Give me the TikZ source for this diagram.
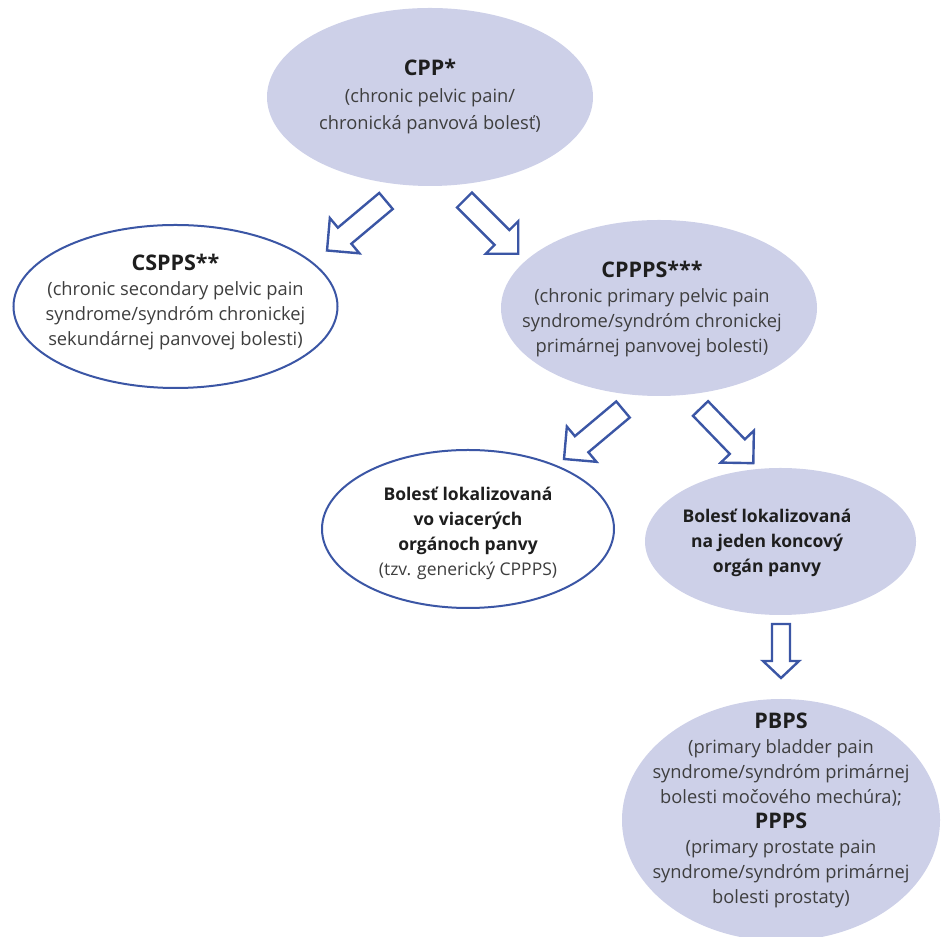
\documentclass[tikz,border=0pt]{standalone}
\usepackage{fontspec}
\setmainfont{Open Sans}
\usetikzlibrary{shapes.geometric}
\definecolor{lav}{HTML}{CDD0E8}
\definecolor{bblue}{HTML}{3B56A5}
\definecolor{txtgray}{HTML}{3E3E3E}
\definecolor{txtdark}{HTML}{1E1E1E}
\newcommand{\bArrow}[6]{%
  \begin{scope}[shift={#1}, rotate=#2]
    \draw[arrowline] (0,-#4) -- ({#3-#6},-#4) -- ({#3-#6},-#5) -- (#3,0) -- ({#3-#6},#5) -- ({#3-#6},#4) -- (0,#4) -- cycle;
  \end{scope}}
\newcommand{\hd}[1]{{\fontsize{21.5}{27}\selectfont\bfseries\color{txtdark}#1}}
\begin{document}
\begin{tikzpicture}[x=1pt,y=1pt,
  filled/.style={ellipse, fill=lav, draw=none, inner sep=0pt},
  outlined/.style={ellipse, fill=white, draw=bblue, line width=2pt, inner sep=0pt},
  arrowline/.style={draw=bblue, line width=2.4pt, fill=white, line join=miter},
  reg/.style={align=center, text=txtgray, font=\fontsize{18.3}{25}\selectfont},
  bsmall/.style={align=center, text=txtdark, font=\fontsize{17.5}{25}\selectfont\bfseries}]
\useasboundingbox (0,0) rectangle (944,936);
% ellipses
\node[filled, minimum width=326pt, minimum height=178pt] (cpp) at (430,839) {};
\node[outlined, minimum width=324pt, minimum height=163pt] (csp) at (175.5,629.5) {};
\node[filled, minimum width=316pt, minimum height=176pt] (cpps) at (659,628) {};
\node[outlined, minimum width=292pt, minimum height=158pt] (gen) at (468,407) {};
\node[filled, minimum width=271pt, minimum height=147pt] (one) at (780.5,394.5) {};
\node[filled, minimum width=318pt, minimum height=242pt] (pb) at (781,116) {};
% texts
\node[reg, font=\fontsize{18.3}{27}\selectfont] (cpp-t) at (cpp.center) {\hd{CPP*}\\(chronic pelvic pain/\\chronická panvová bolesť)};
\node[reg] (csp-t) at (175.5,634) {\hd{CSPPS**}\\(chronic secondary pelvic pain\\syndrome/syndróm chronickej\\sekundárnej panvovej bolesti)};
\node[reg] (cpps-t) at (652,627) {\hd{CPPPS***}\\(chronic primary pelvic pain\\syndrome/syndróm chronickej\\primárnej panvovej bolesti)};
\node[bsmall] (gen-t) at (468,403) {Bolesť lokalizovaná\\vo viacerých\\orgánoch panvy\\{\mdseries\color{txtgray}(tzv. generický CPPPS)}};
\node[bsmall] (one-t) at (767,393) {Bolesť lokalizovaná\\na jeden koncový\\orgán panvy};
\node[reg] (pb-t) at (781,126) {\hd{PBPS}\\(primary bladder pain\\syndrome/syndróm primárnej\\bolesti močového mechúra);\\\hd{PPPS}\\(primary prostate pain\\syndrome/syndróm primárnej\\bolesti prostaty)};
% block arrows
\bArrow{(386,735)}{220}{77}{10.5}{23}{23}
\bArrow{(464.5,736)}{-45}{76}{10.5}{23}{23}
\bArrow{(623,526.5)}{220}{77}{10.5}{23}{23}
\bArrow{(700.5,527.5)}{-46}{76}{10.5}{23}{23}
\bArrow{(781,312)}{-90}{54}{9}{18}{17}
\end{tikzpicture}
\end{document}
